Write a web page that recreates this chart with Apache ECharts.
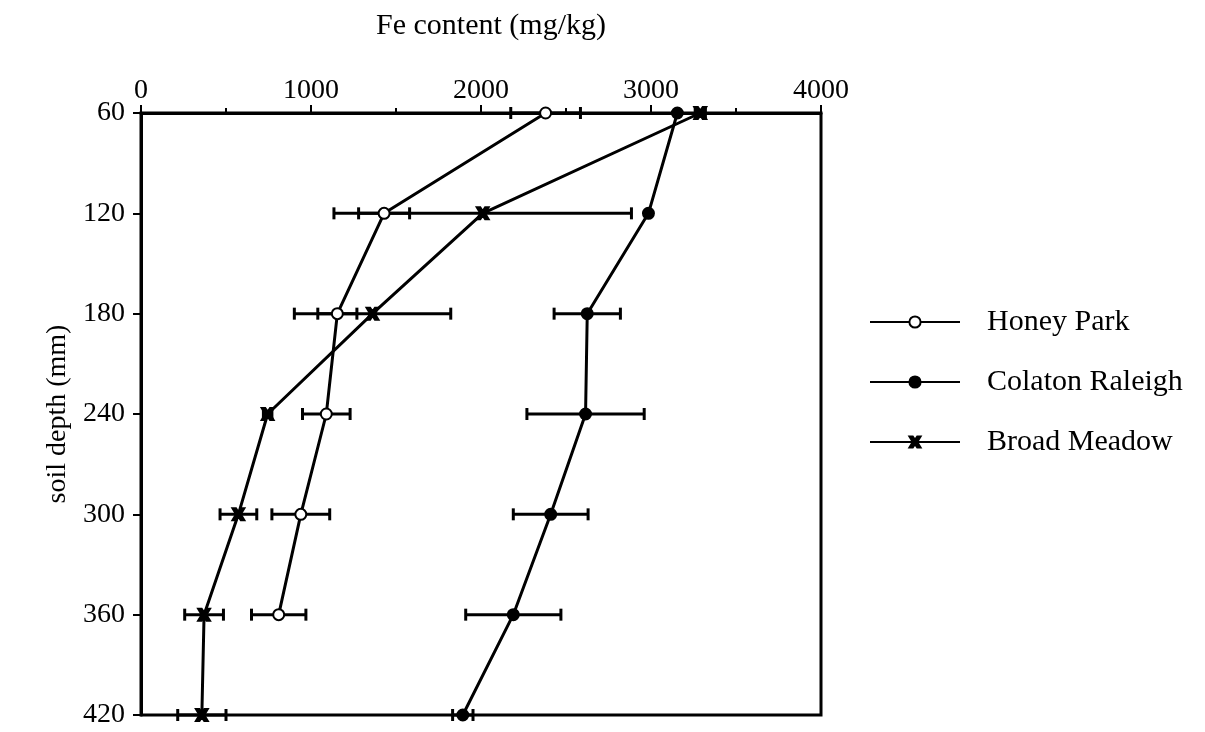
<!DOCTYPE html>
<html>
<head>
<meta charset="utf-8">
<script src="https://cdn.jsdelivr.net/npm/echarts@6/dist/echarts.min.js"></script>
<style>
  html, body { margin: 0; padding: 0; background: #fff; }
  #chart { width: 1205px; height: 732px; }
</style>
</head>
<body>
<div id="chart"></div>
<script>
// soil depth (mm)
const depths = [60, 120, 180, 240, 300, 360, 420];
// Fe content (mg/kg) and error half widths
const honeyPark = [2380, 1430, 1155, 1090, 940, 810, null];
const honeyParkErr = [205, 150, 115, 140, 170, 160, null];
const colaton = [3155, 2985, 2625, 2615, 2410, 2190, 1893];
const colatonErr = [0, 0, 195, 345, 220, 280, 60];
const broadMeadow = [3290, 2010, 1362, 745, 573, 371, 358];
const broadMeadowErr = [30, 875, 460, 25, 108, 114, 142];

const font = "Liberation Serif";

function linePoints(vals) {
  const out = [];
  for (let i = 0; i < depths.length; i++) {
    if (vals[i] != null) out.push([vals[i], depths[i]]);
  }
  return out;
}
function errPoints(vals, errs) {
  const out = [];
  for (let i = 0; i < depths.length; i++) {
    if (vals[i] != null && errs[i] > 0) out.push([vals[i] - errs[i], vals[i] + errs[i], depths[i]]);
  }
  return out;
}

// horizontal error bars with caps
function renderErr(params, api) {
  const a = api.coord([api.value(0), api.value(2)]);
  const b = api.coord([api.value(1), api.value(2)]);
  const st = { stroke: '#000', lineWidth: 3 };
  return {
    type: 'group',
    children: [
      { type: 'line', shape: { x1: a[0], y1: a[1], x2: b[0], y2: b[1] }, style: st },
      { type: 'line', shape: { x1: a[0], y1: a[1] - 6, x2: a[0], y2: a[1] + 6 }, style: st },
      { type: 'line', shape: { x1: b[0], y1: b[1] - 6, x2: b[0], y2: b[1] + 6 }, style: st }
    ]
  };
}

const xMark = 'path://M0,0 L3,0 L5,3 L7,0 L10,0 L7,5 L10,10 L7,10 L5,7 L3,10 L0,10 L3,5 Z';

function lineSeries(name, vals, symbol, fill, z) {
  return {
    name: name,
    type: 'line',
    data: linePoints(vals),
    symbol: symbol,
    symbolSize: symbol === xMark ? 12 : 11,
    showAllSymbol: true,
    lineStyle: { color: '#000', width: 3 },
    itemStyle: { color: fill, borderColor: '#000', borderWidth: 2 },
    z: z,
    animation: false
  };
}
function errSeries(vals, errs) {
  return {
    type: 'custom',
    renderItem: renderErr,
    data: errPoints(vals, errs),
    encode: { x: [0, 1], y: 2 },
    silent: true,
    z: 2,
    animation: false
  };
}

const option = {
  backgroundColor: '#fff',
  animation: false,
  grid: { left: 141, top: 113, width: 680, height: 602, show: true, borderColor: '#000', borderWidth: 3 },
  legend: {
    data: ['Honey Park', 'Colaton Raleigh', 'Broad Meadow'],
    orient: 'vertical',
    left: 864,
    top: 302,
    itemWidth: 90,
    itemHeight: 14,
    itemGap: 30,
    textStyle: { fontFamily: font, fontSize: 30, color: '#000', padding: [0, 0, 0, 22] }
  },
  xAxis: {
    type: 'value',
    position: 'top',
    min: 0,
    max: 4000,
    interval: 1000,
    name: 'Fe content (mg/kg)',
    nameLocation: 'middle',
    nameGap: 72,
    nameTextStyle: { fontFamily: font, fontSize: 30, color: '#000', padding: [0, 0, 0, 20] },
    axisLine: { show: true, lineStyle: { color: '#000', width: 3 } },
    axisTick: { show: true, inside: false, length: 8, lineStyle: { color: '#000', width: 2 } },
    minorTick: { show: true, splitNumber: 2, length: 5, lineStyle: { color: '#000', width: 2 } },
    splitLine: { show: false },
    axisLabel: {
      margin: 8,
      fontFamily: font, fontSize: 28, color: '#000',
      formatter: function (v) { return String(v); }
    }
  },
  yAxis: {
    type: 'value',
    inverse: true,
    min: 60,
    max: 420,
    interval: 60,
    name: 'soil depth (mm)',
    nameLocation: 'middle',
    nameGap: 68,
    nameTextStyle: { fontFamily: font, fontSize: 28, color: '#000' },
    axisLine: { show: true, lineStyle: { color: '#000', width: 3 } },
    axisTick: { show: true, inside: false, length: 8, lineStyle: { color: '#000', width: 2 } },
    splitLine: { show: false },
    axisLabel: { margin: 16, fontFamily: font, fontSize: 28, color: '#000' }
  },
  series: [
    errSeries(honeyPark, honeyParkErr),
    errSeries(colaton, colatonErr),
    errSeries(broadMeadow, broadMeadowErr),
    lineSeries('Honey Park', honeyPark, 'circle', '#fff', 5),
    lineSeries('Colaton Raleigh', colaton, 'circle', '#000', 4),
    lineSeries('Broad Meadow', broadMeadow, xMark, '#000', 4)
  ]
};

const myChart = echarts.init(document.getElementById('chart'));
myChart.setOption(option);
</script>
</body>
</html>
